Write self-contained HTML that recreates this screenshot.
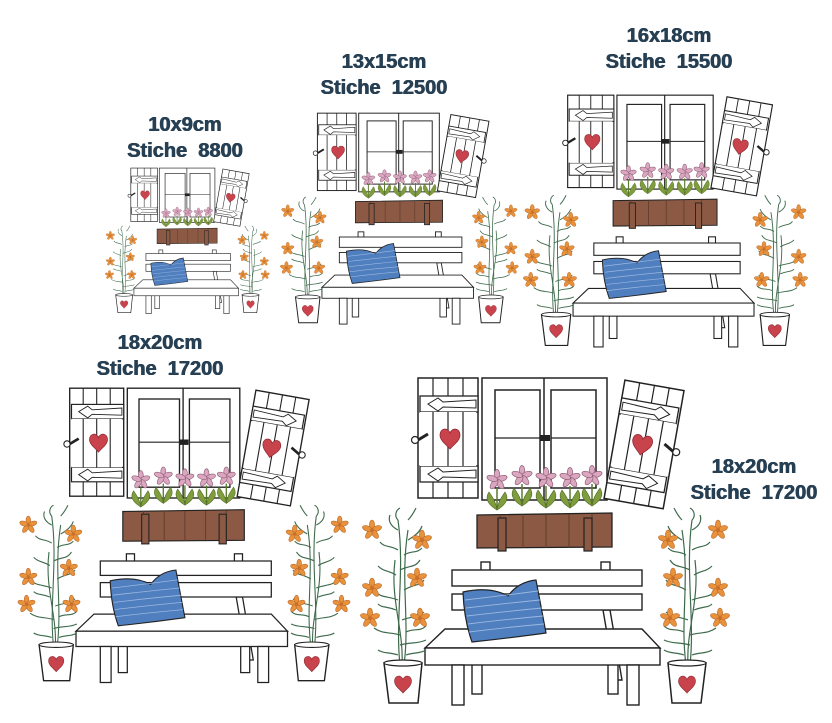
<!DOCTYPE html>
<html><head><meta charset="utf-8">
<style>
html,body{margin:0;padding:0;background:#fff;}
body{width:832px;height:723px;overflow:hidden;position:relative;}
.t{position:absolute;font-family:"Liberation Sans",sans-serif;font-weight:bold;font-size:20px;color:#263f52;text-align:center;line-height:26px;width:200px;text-shadow:0.4px 0 0 #263f52,-0.4px 0 0 #263f52;}
svg{position:absolute;left:0;top:0;}
</style></head><body>
<svg width="832" height="723" viewBox="0 0 832 723">
<defs>
<g id="heart"><path d="M0,-3 C-2,-9 -10,-8 -10,-1 C-10,5 -3,9 0,13 C3,9 10,5 10,-1 C10,-8 2,-9 0,-3Z" fill="#c9434c" stroke="#8e2b33" stroke-width="0.8"/></g>
<g id="of"><g fill="#e8923c" stroke="#b8672a" stroke-width="0.6">
<ellipse cx="0" cy="-5" rx="2.6" ry="5"/><ellipse cx="0" cy="-5" rx="2.6" ry="5" transform="rotate(72)"/><ellipse cx="0" cy="-5" rx="2.6" ry="5" transform="rotate(144)"/><ellipse cx="0" cy="-5" rx="2.6" ry="5" transform="rotate(216)"/><ellipse cx="0" cy="-5" rx="2.6" ry="5" transform="rotate(288)"/></g><circle r="2" fill="#c8702c"/></g>
<g id="pf"><path d="M0,28 L0,8" stroke="#5a7a30" stroke-width="1.5"/>
<path d="M0,30 C-10,24 -12,18 -8,12 C-4,18 -1,22 0,30Z M0,30 C10,24 12,18 8,12 C4,18 1,22 0,30Z" fill="#7f9d3c" stroke="#4f6a25" stroke-width="0.6"/>
<g fill="#dba6bf" stroke="#8f6078" stroke-width="0.7">
<ellipse cx="0" cy="-5" rx="2.8" ry="5.5"/><ellipse cx="0" cy="-5" rx="2.8" ry="5.5" transform="rotate(72)"/><ellipse cx="0" cy="-5" rx="2.8" ry="5.5" transform="rotate(144)"/><ellipse cx="0" cy="-5" rx="2.8" ry="5.5" transform="rotate(216)"/><ellipse cx="0" cy="-5" rx="2.8" ry="5.5" transform="rotate(288)"/></g></g>
<g id="plant">
<g stroke="#3d6a4b" stroke-width="1.2" fill="none">
<path d="M40,295 C35,250 45,200 38,150"/><path d="M44,295 C50,250 40,210 48,160"/><path d="M42,295 C44,260 30,230 35,190"/>
<path d="M38,180 C30,175 25,178 20,172"/><path d="M40,200 C50,195 55,198 60,190"/><path d="M38,230 C28,226 22,228 15,222"/><path d="M42,250 C52,246 58,248 64,242"/><path d="M40,265 C30,262 22,264 14,258"/><path d="M44,220 C54,214 60,216 64,210"/><path d="M38,160 C30,156 28,150 30,145"/><path d="M48,170 C55,166 60,162 62,156"/><path d="M40,275 C50,272 58,274 66,270"/><path d="M36,205 C28,200 24,202 18,196"/>
<path d="M44,185 C52,180 56,184 62,178"/><path d="M36,240 C26,236 22,238 18,234"/><path d="M46,262 C54,258 60,262 66,256"/><path d="M38,285 C30,282 24,284 18,280"/><path d="M46,285 C54,282 60,284 66,280"/><path d="M48,150 C52,146 54,142 56,138"/><path d="M38,150 C34,146 36,140 40,138"/>
</g>
<use href="#of" x="12" y="160"/><use href="#of" x="62" y="170"/><use href="#of" x="12" y="218"/><use href="#of" x="57" y="208"/><use href="#of" x="10" y="248"/><use href="#of" x="60" y="248"/>
<path d="M24,293 L62,293 L58,333 L29,333Z" fill="#fff" stroke="#222" stroke-width="1.5"/>
<ellipse cx="43" cy="293" rx="19" ry="3" fill="#fff" stroke="#222" stroke-width="1.2"/>
<use href="#heart" transform="translate(43,312) scale(0.85)"/>
</g>
<g id="shut">
<rect x="0" y="0" width="60" height="120" fill="#fff" stroke="#222" stroke-width="1.5"/>
<path d="M15,0V120M30,0V120M45,0V120" stroke="#222" stroke-width="1.2"/>
<rect x="2" y="18" width="58" height="16" fill="#fff" stroke="#222" stroke-width="1.3"/>
<rect x="2" y="88" width="58" height="16" fill="#fff" stroke="#222" stroke-width="1.3"/>
<path d="M10,26 L20,20 L25,24 L58,22 L58,30 L25,29 L20,33Z" fill="#fff" stroke="#222" stroke-width="1"/>
<path d="M10,96 L20,90 L25,94 L58,92 L58,100 L25,99 L20,103Z" fill="#fff" stroke="#222" stroke-width="1"/>
<rect x="2" y="34" width="56" height="54" fill="#fff" stroke="none"/>
<path d="M15,34V88M30,34V88M45,34V88" stroke="#222" stroke-width="1.2"/>
<use href="#heart" transform="translate(32,58)"/>
<circle cx="-3" cy="62" r="3.5" fill="#fff" stroke="#222" stroke-width="1.2"/><path d="M0,62 L10,56" stroke="#222" stroke-width="3"/>
</g>
<g id="scene">
<use href="#shut" x="58" y="8"/>
<rect x="122" y="8" width="125" height="122" fill="#fff" stroke="#222" stroke-width="1.5"/>
<path d="M184,8V130" stroke="#222" stroke-width="1.5"/>
<rect x="135" y="20" width="45" height="98" fill="#fff" stroke="#222" stroke-width="1.5"/>
<rect x="191" y="20" width="45" height="98" fill="#fff" stroke="#222" stroke-width="1.5"/>
<path d="M135,68H180M191,68H236" stroke="#222" stroke-width="1.3"/>
<rect x="180" y="65" width="10" height="6" fill="#222"/>
<g transform="rotate(10 287 75) translate(314,15) scale(-1,1)"><use href="#shut" x="0" y="0"/></g>
<use href="#pf" x="137" y="110"/><use href="#pf" x="162" y="106"/><use href="#pf" x="186" y="108"/><use href="#pf" x="210" y="108"/><use href="#pf" x="232" y="106"/>
<path d="M117,145 L252,143 L252,177 L117,178Z" fill="#8c5a44" stroke="#222" stroke-width="1.3"/>
<path d="M140,144V178M163,144V178M186,144V178M209,144V178M232,144V178" stroke="#5e3a2a" stroke-width="1"/>
<rect x="138" y="148" width="8" height="33" fill="#8c5a44" stroke="#222" stroke-width="1.2"/>
<rect x="224" y="148" width="8" height="33" fill="#8c5a44" stroke="#222" stroke-width="1.2"/>
<g fill="#fff" stroke="#222" stroke-width="1.4">
<rect x="121" y="192" width="9" height="12"/><rect x="241" y="192" width="9" height="12"/>
<path d="M243,240 L255,310 L262,310 L250,240Z"/>
<rect x="112" y="292" width="10" height="32"/><rect x="248" y="292" width="10" height="32"/>
<rect x="92" y="200" width="190" height="16"/>
<rect x="92" y="224" width="190" height="16"/>
<path d="M85,259 L282,259 L300,278 L65,278Z"/>
<rect x="65" y="278" width="235" height="17"/>
<rect x="92" y="295" width="12" height="40"/><rect x="267" y="295" width="12" height="40"/>
</g>
<path d="M103,222 Q130,216 148,226 Q158,212 176,210 L186,263 Q150,268 112,272 Q104,250 103,222Z" fill="#4f7fbf" stroke="#222" stroke-width="1.2"/>
<g stroke="#9cb8e0" stroke-width="0.9" fill="none">
<path d="M105,230 Q140,226 178,221M106,238 Q140,234 180,230M107,246 Q140,242 182,238M108,254 Q140,250 183,246M109,262 Q140,258 184,254"/></g>
<use href="#plant" x="0" y="0"/>
<use href="#plant" transform="translate(375,0) scale(-1,1) translate(5,0)"/>
</g>
</defs>
<use href="#scene" transform="translate(105,164.5) scale(0.445)"/>
<use href="#scene" transform="translate(280,108) scale(0.645)"/>
<use href="#scene" transform="translate(523,89) scale(0.77)"/>
<use href="#scene" transform="translate(17.5,381) scale(0.9)"/>
<use href="#scene" transform="translate(360,370) scale(1)"/>
</svg>
<div class="t" style="left:85px;top:112px">10x9cm<br>Stiche&nbsp; 8800</div>
<div class="t" style="left:284px;top:49px">13x15cm<br>Stiche&nbsp; 12500</div>
<div class="t" style="left:569px;top:23px">16x18cm<br>Stiche&nbsp; 15500</div>
<div class="t" style="left:60px;top:330px">18x20cm<br>Stiche&nbsp; 17200</div>
<div class="t" style="left:654px;top:454px">18x20cm<br>Stiche&nbsp; 17200</div>
</body></html>
